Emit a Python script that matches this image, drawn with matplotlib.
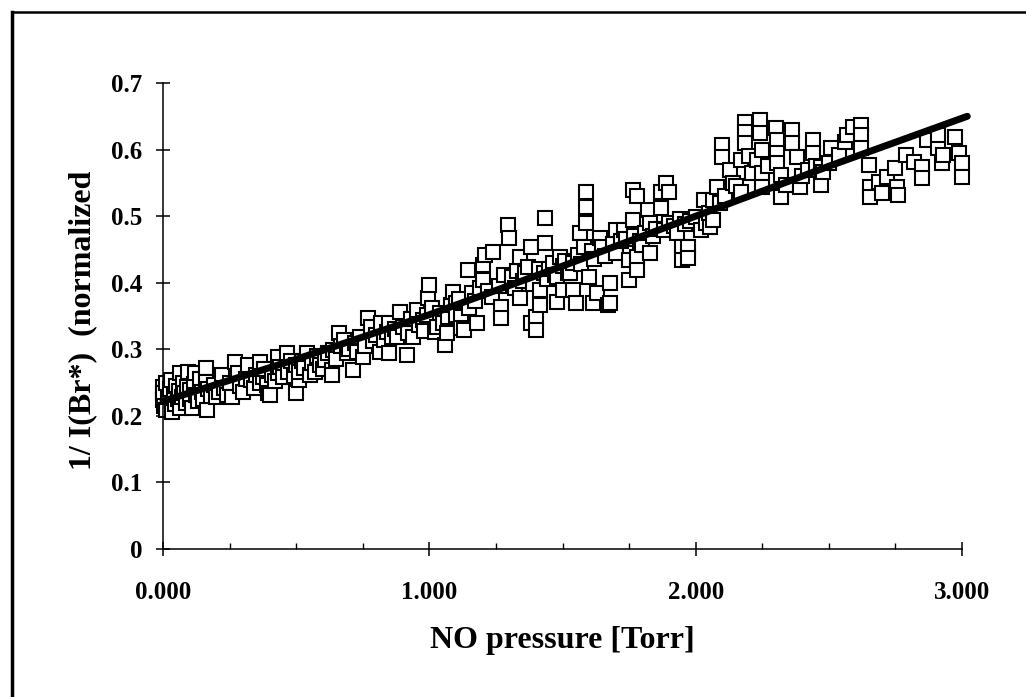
#!/usr/bin/env python

# Scatter of 1/I(Br*) against NO pressure with the linear fit drawn over it.

import numpy as np
import matplotlib
matplotlib.use('Agg')
import matplotlib.pyplot as plt
from matplotlib.lines import Line2D
from matplotlib.ticker import MultipleLocator, FormatStrFormatter

xA = [0.0, 0.0, 0.0, 0.005, 0.01, 0.01, 0.02, 0.025, 0.03, 0.035, 0.04, 0.045,
      0.05, 0.055, 0.06, 0.065, 0.065, 0.07, 0.075, 0.08, 0.085, 0.09, 0.095,
      0.10, 0.10, 0.11, 0.115, 0.12, 0.125, 0.13, 0.14, 0.145, 0.15, 0.16, 0.16,
      0.165, 0.17, 0.18, 0.19, 0.20, 0.21, 0.22, 0.23, 0.24, 0.25]
yA = [0.224, 0.243, 0.235, 0.215, 0.209, 0.250, 0.228, 0.240, 0.254, 0.206,
      0.232, 0.218, 0.245, 0.225, 0.238, 0.264, 0.212, 0.228, 0.250, 0.235,
      0.220, 0.244, 0.266, 0.239, 0.226, 0.212, 0.248, 0.264, 0.232, 0.222,
      0.255, 0.236, 0.226, 0.272, 0.251, 0.209, 0.240, 0.230, 0.246, 0.228,
      0.236, 0.261, 0.242, 0.232, 0.249]

xB = [0.26, 0.27, 0.28, 0.29, 0.30, 0.31, 0.32, 0.33, 0.34, 0.35, 0.365, 0.365,
      0.375, 0.38, 0.39, 0.395, 0.40, 0.41, 0.42, 0.43, 0.43, 0.44, 0.45, 0.465,
      0.47, 0.48, 0.49, 0.50, 0.50]
yB = [0.228, 0.281, 0.264, 0.245, 0.236, 0.255, 0.276, 0.254, 0.242, 0.262,
      0.281, 0.249, 0.258, 0.270, 0.247, 0.234, 0.231, 0.262, 0.252, 0.288,
      0.264, 0.274, 0.258, 0.294, 0.266, 0.282, 0.260, 0.234, 0.276]

xC = [0.51, 0.51, 0.52, 0.53, 0.54, 0.55, 0.56, 0.57, 0.58, 0.59, 0.60, 0.61,
      0.62, 0.635, 0.635, 0.64, 0.65, 0.66, 0.67, 0.68, 0.69, 0.70, 0.715, 0.72,
      0.73, 0.74, 0.75]
yC = [0.254, 0.266, 0.283, 0.272, 0.294, 0.262, 0.280, 0.266, 0.290, 0.276,
      0.270, 0.284, 0.295, 0.269, 0.261, 0.299, 0.286, 0.324, 0.305, 0.314,
      0.294, 0.300, 0.269, 0.310, 0.296, 0.318, 0.288]

xD = [0.76, 0.77, 0.78, 0.79, 0.80, 0.815, 0.82, 0.83, 0.84, 0.85, 0.85, 0.86,
      0.87, 0.88, 0.89, 0.90, 0.915, 0.92, 0.93, 0.94, 0.955, 0.96, 0.975, 0.98,
      0.99, 0.995, 1.0]
yD = [0.305, 0.347, 0.333, 0.312, 0.322, 0.296, 0.340, 0.314, 0.326, 0.339,
      0.294, 0.318, 0.330, 0.318, 0.356, 0.334, 0.291, 0.325, 0.345, 0.318,
      0.359, 0.336, 0.344, 0.328, 0.352, 0.377, 0.396]

xE = [1.01, 1.02, 1.03, 1.04, 1.05, 1.06, 1.065, 1.07, 1.08, 1.09, 1.10, 1.10,
      1.11, 1.12, 1.12, 1.13, 1.145, 1.15, 1.16, 1.17, 1.18, 1.19, 1.20, 1.20,
      1.21, 1.22, 1.235, 1.24]
yE = [0.362, 0.326, 0.333, 0.355, 0.340, 0.306, 0.324, 0.348, 0.366, 0.386,
      0.369, 0.352, 0.375, 0.348, 0.332, 0.329, 0.419, 0.362, 0.385, 0.372,
      0.339, 0.392, 0.404, 0.426, 0.441, 0.388, 0.378, 0.446]

xF = [1.26, 1.27, 1.27, 1.28, 1.295, 1.30, 1.31, 1.32, 1.33, 1.34, 1.34, 1.35,
      1.36, 1.37, 1.38, 1.38, 1.39, 1.40, 1.40, 1.41, 1.415, 1.415, 1.43, 1.435,
      1.435, 1.44, 1.45, 1.465, 1.47, 1.48, 1.48, 1.49, 1.50, 1.50]
yF = [0.395, 0.363, 0.347, 0.412, 0.486, 0.467, 0.408, 0.392, 0.418, 0.438,
      0.377, 0.402, 0.415, 0.423, 0.453, 0.339, 0.398, 0.348, 0.329, 0.420,
      0.389, 0.366, 0.414, 0.497, 0.459, 0.405, 0.421, 0.429, 0.412, 0.408,
      0.371, 0.438, 0.389, 0.425]

xG = [1.51, 1.52, 1.53, 1.54, 1.54, 1.55, 1.56, 1.565, 1.57, 1.58, 1.59, 1.59,
      1.59, 1.60, 1.61, 1.615, 1.62, 1.63, 1.64, 1.65, 1.66, 1.67, 1.68, 1.68,
      1.69, 1.70, 1.70, 1.72, 1.73, 1.74, 1.75]
yG = [0.432, 0.415, 0.414, 0.429, 0.389, 0.370, 0.442, 0.474, 0.428, 0.453,
      0.536, 0.514, 0.490, 0.408, 0.448, 0.370, 0.436, 0.384, 0.467, 0.453,
      0.440, 0.366, 0.400, 0.370, 0.458, 0.444, 0.479, 0.462, 0.479, 0.466,
      0.434]

xH = [1.75, 1.765, 1.765, 1.77, 1.78, 1.78, 1.78, 1.79, 1.80, 1.81, 1.82, 1.83,
      1.83, 1.84, 1.85, 1.87, 1.87, 1.88, 1.89, 1.90, 1.90, 1.92, 1.93, 1.94,
      1.95, 1.95, 1.96, 1.97, 1.97, 1.98, 2.0, 2.02, 2.03, 2.04, 2.05]
yH = [0.404, 0.539, 0.494, 0.470, 0.531, 0.438, 0.419, 0.462, 0.456, 0.475,
      0.509, 0.489, 0.444, 0.470, 0.480, 0.536, 0.512, 0.479, 0.550, 0.536,
      0.490, 0.485, 0.474, 0.495, 0.453, 0.434, 0.488, 0.453, 0.437, 0.492,
      0.498, 0.479, 0.524, 0.489, 0.505]

xI = [2.055, 2.065, 2.065, 2.08, 2.09, 2.10, 2.10, 2.11, 2.13, 2.14, 2.15, 2.17,
      2.17, 2.185, 2.185, 2.185, 2.20, 2.21, 2.23, 2.24, 2.24, 2.25, 2.25, 2.25,
      2.27, 2.30, 2.305, 2.305, 2.305, 2.32, 2.32, 2.32, 2.34, 2.36, 2.36, 2.38,
      2.39, 2.40, 2.42, 2.44, 2.44, 2.45, 2.47, 2.47, 2.48, 2.50]
yI = [0.483, 0.494, 0.524, 0.544, 0.520, 0.607, 0.589, 0.530, 0.569, 0.550,
      0.545, 0.584, 0.536, 0.641, 0.626, 0.610, 0.590, 0.565, 0.584, 0.644,
      0.625, 0.599, 0.565, 0.544, 0.575, 0.632, 0.614, 0.595, 0.580, 0.562,
      0.535, 0.529, 0.547, 0.629, 0.610, 0.589, 0.544, 0.560, 0.569, 0.614,
      0.595, 0.575, 0.547, 0.574, 0.566, 0.580]

xJ = [2.51, 2.54, 2.56, 2.57, 2.59, 2.62, 2.62, 2.62, 2.65, 2.655, 2.655, 2.69,
      2.70, 2.72, 2.75, 2.755, 2.76, 2.79, 2.82, 2.85, 2.85, 2.87, 2.91, 2.91,
      2.925, 2.93, 2.975, 2.99, 3.0, 3.0]
yJ = [0.602, 0.592, 0.611, 0.622, 0.634, 0.637, 0.622, 0.602, 0.577, 0.544,
      0.529, 0.551, 0.535, 0.559, 0.572, 0.544, 0.532, 0.592, 0.581, 0.574,
      0.557, 0.614, 0.602, 0.622, 0.580, 0.592, 0.619, 0.595, 0.580, 0.559]

# fit line
xFit = [0.0, 0.5, 1.0, 1.5, 2.0, 2.5, 3.02]
yFit = [0.222, 0.285, 0.352, 0.425, 0.500, 0.575, 0.650]

xTicks = [0.0, 1.0, 2.0, 3.0]
yTicks = [0.0, 0.1, 0.2, 0.3, 0.4, 0.5, 0.6, 0.7]

xData = np.concatenate([xA, xB, xC, xD, xE, xF, xG, xH, xI, xJ])
yData = np.concatenate([yA, yB, yC, yD, yE, yF, yG, yH, yI, yJ])

params = {'font.family': 'Liberation Serif',
          'font.weight': 'bold',
          'axes.labelweight': 'bold',
          'axes.labelsize': 23,
          'xtick.labelsize': 18,
          'ytick.labelsize': 18,
          'axes.linewidth': 1.1,
          'figure.figsize': [10.26, 6.97],
          'savefig.dpi': 100}
plt.rcParams.update(params)

fig = plt.figure()
ax = fig.add_axes([0.1589, 0.2123, 0.9376 - 0.1589, 0.8809 - 0.2123])

ax.plot(xData, yData, 's', markersize=9.8, markerfacecolor='white',
        markeredgecolor='black', markeredgewidth=1.5, clip_on=False, zorder=2)
ax.plot(xFit, yFit, '-', color='black', linewidth=5, solid_capstyle='round',
        clip_on=False, zorder=3)

ax.set_xlim((0, 3.0))
ax.set_ylim((0, 0.7))
ax.set_xticks(xTicks)
ax.set_yticks(yTicks)
ax.xaxis.set_minor_locator(MultipleLocator(0.25))
ax.xaxis.set_major_formatter(FormatStrFormatter('%.3f'))
ax.set_yticklabels(['0' if v == 0 else '%.1f' % v for v in yTicks])
ax.tick_params(which='major', direction='inout', length=10, width=1.1)
ax.tick_params(axis='x', which='major', pad=18)
ax.tick_params(axis='y', which='major', pad=10)
ax.tick_params(axis='x', which='minor', direction='in', length=4, width=1.0)

for side in ['top', 'right']:
    ax.spines[side].set_visible(False)

ax.set_xlabel('NO pressure [Torr]')
ax.set_ylabel('1/ I(Br*)  (normalized')
ax.xaxis.set_label_coords(0.5, -0.165)
ax.yaxis.set_label_coords(-0.083, 0.49)

# partial frame round the chart (left and top edges)
fig.add_artist(Line2D([12 / 1026.0, 12 / 1026.0], [0, 1 - 12 / 697.0],
                      transform=fig.transFigure, color='black', linewidth=2.5))
fig.add_artist(Line2D([12 / 1026.0, 1.0], [1 - 12 / 697.0, 1 - 12 / 697.0],
                      transform=fig.transFigure, color='black', linewidth=1.8))

plt.savefig('out.png')
